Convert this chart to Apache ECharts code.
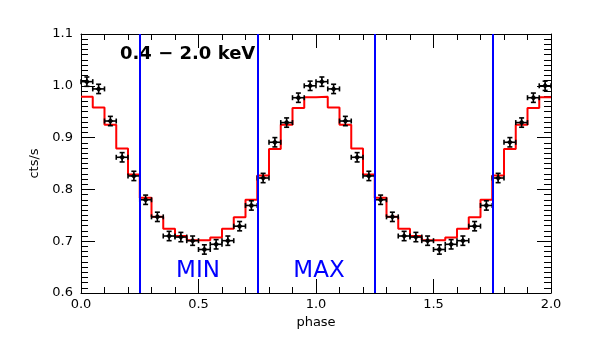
<!DOCTYPE html>
<html>
<head>
<meta charset="utf-8">
<script src="https://cdn.jsdelivr.net/npm/echarts@6/dist/echarts.min.js"></script>
<style>
  html, body { margin: 0; padding: 0; background: #fff; }
  #chart { width: 598px; height: 341px; }
</style>
</head>
<body>
<div id="chart"></div>
<script>
// folded light curve, one cycle in 20 phase bins (plotted twice)
var binWidth = 0.05;
var cycles = 2;
var rate = [1.008, 0.994, 0.932, 0.862, 0.826, 0.780, 0.747, 0.710, 0.708, 0.701,
            0.684, 0.694, 0.701, 0.729, 0.769, 0.822, 0.891, 0.929, 0.977, 1.000];
var rateErr = [0.009, 0.009, 0.009, 0.009, 0.009, 0.009, 0.009, 0.009, 0.009, 0.009,
               0.009, 0.009, 0.009, 0.009, 0.009, 0.009, 0.009, 0.009, 0.009, 0.009];
var model = [0.979, 0.958, 0.925, 0.879, 0.829, 0.784, 0.747, 0.724, 0.710, 0.702,
             0.702, 0.707, 0.724, 0.746, 0.780, 0.827, 0.878, 0.925, 0.957, 0.978];
// MIN / MAX interval boundaries
var boundaries = [0.25, 0.75, 1.25, 1.75];

var points = [];
var steps = [];
for (var c = 0; c < cycles; c++) {
  for (var i = 0; i < rate.length; i++) {
    points.push([c + (i + 0.5) * binWidth, rate[i], rateErr[i]]);
    steps.push([c + i * binWidth, model[i]]);
  }
}
steps.push([cycles, model[model.length - 1]]);

var chart = echarts.init(document.getElementById('chart'));

var font = 'DejaVu Sans';
function xAxisCfg(pos, showLabel) {
  return {
    type: 'value', position: pos, min: 0, max: 2, interval: 0.5,
    axisLine: { show: true, onZero: false, lineStyle: { color: '#000', width: 1 } },
    axisTick: { show: true, inside: true, length: 14, lineStyle: { color: '#000' } },
    minorTick: { show: true, splitNumber: 5, length: 6, lineStyle: { color: '#000' } },
    axisLabel: { show: showLabel, color: '#000', fontFamily: font, fontSize: 13, margin: 5,
                 formatter: function (v) { return v.toFixed(1); } },
    splitLine: { show: false },
    name: showLabel ? 'phase' : '', nameLocation: 'middle', nameGap: 22,
    nameTextStyle: { color: '#000', fontFamily: font, fontSize: 13 }
  };
}
function yAxisCfg(pos, showLabel) {
  return {
    type: 'value', position: pos, min: 0.6, max: 1.1, interval: 0.1,
    axisLine: { show: true, onZero: false, lineStyle: { color: '#000', width: 1 } },
    axisTick: { show: true, inside: true, length: 14, lineStyle: { color: '#000' } },
    minorTick: { show: true, splitNumber: 10, length: 7, lineStyle: { color: '#000' } },
    axisLabel: { show: showLabel, color: '#000', fontFamily: font, fontSize: 13, margin: 8,
                 formatter: function (v) { return v.toFixed(1); } },
    splitLine: { show: false },
    name: showLabel ? 'cts/s' : '', nameLocation: 'middle', nameGap: 34, nameRotate: 90,
    nameTextStyle: { color: '#000', fontFamily: font, fontSize: 13 }
  };
}

var option = {
  animation: false,
  backgroundColor: '#fff',
  grid: { left: 81, right: 47, top: 34, bottom: 48 },
  xAxis: [xAxisCfg('bottom', true), xAxisCfg('top', false)],
  yAxis: [yAxisCfg('left', true), yAxisCfg('right', false)],
  series: [
    {
      name: 'model',
      type: 'line',
      step: 'end',
      data: steps,
      symbol: 'none',
      lineStyle: { color: '#ff0000', width: 2 },
      z: 3,
      markLine: {
        silent: true,
        symbol: 'none',
        label: { show: false },
        lineStyle: { color: '#0000ff', width: 2, type: 'solid' },
        data: boundaries.map(function (b) { return { xAxis: b }; })
      }
    },
    {
      name: 'data',
      type: 'custom',
      data: points,
      z: 4,
      renderItem: function (params, api) {
        var x = api.value(0), y = api.value(1), e = api.value(2);
        var p = api.coord([x, y]);
        var l = api.coord([x - binWidth / 2, y])[0];
        var r = api.coord([x + binWidth / 2, y])[0];
        var t = api.coord([x, y + e])[1];
        var b = api.coord([x, y - e])[1];
        var cap = 2.5, d = 3;
        var st = { stroke: '#000', lineWidth: 1.6 };
        function seg(x1, y1, x2, y2) {
          return { type: 'line', shape: { x1: x1, y1: y1, x2: x2, y2: y2 }, style: st };
        }
        return {
          type: 'group',
          children: [
            seg(l, p[1], r, p[1]),
            seg(p[0], t, p[0], b),
            seg(l, p[1] - cap, l, p[1] + cap),
            seg(r, p[1] - cap, r, p[1] + cap),
            seg(p[0] - cap, t, p[0] + cap, t),
            seg(p[0] - cap, b, p[0] + cap, b),
            { type: 'polygon',
              shape: { points: [[p[0], p[1] - d], [p[0] + d, p[1]], [p[0], p[1] + d], [p[0] - d, p[1]]] },
              style: { fill: '#000' } }
          ]
        };
      }
    }
  ],
  graphic: [
    { type: 'text', x: 120, y: 54,
      style: { text: '0.4 \u2212 2.0 keV', font: 'bold 18px "DejaVu Sans"', fill: '#000',
               align: 'left', verticalAlign: 'middle' } },
    { type: 'text', x: 198, y: 271,
      style: { text: 'MIN', font: '23px "DejaVu Sans"', fill: '#0000ff',
               align: 'center', verticalAlign: 'middle' } },
    { type: 'text', x: 319, y: 271,
      style: { text: 'MAX', font: '23px "DejaVu Sans"', fill: '#0000ff',
               align: 'center', verticalAlign: 'middle' } }
  ]
};

chart.setOption(option);
</script>
</body>
</html>
